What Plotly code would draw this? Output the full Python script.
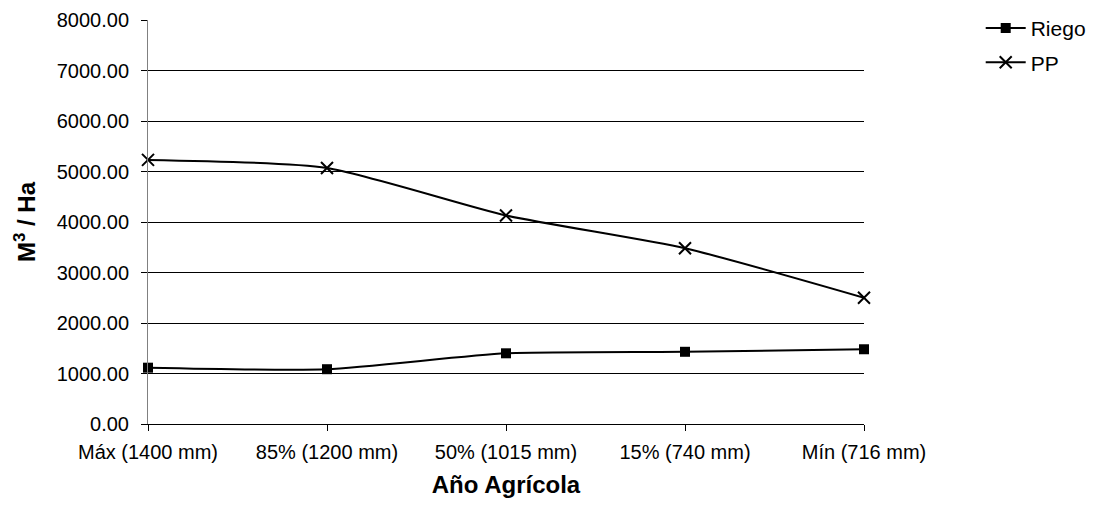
import plotly.graph_objects as go

categories = ["Máx (1400 mm)", "85% (1200 mm)", "50% (1015 mm)", "15% (740 mm)", "Mín (716 mm)"]
riego = [1115, 1085, 1400, 1430, 1480]
pp = [5230, 5070, 4130, 3480, 2500]
y_ticks = [0, 1000, 2000, 3000, 4000, 5000, 6000, 7000, 8000]

font = "Liberation Sans, Arial, sans-serif"
xs = list(range(len(categories)))

fig = go.Figure()
fig.add_trace(go.Scatter(
    x=xs, y=riego, name="Riego", mode="lines+markers", legendgroup="a",
    line=dict(color="black", width=2, shape="spline", smoothing=0.6),
    marker=dict(symbol="square", size=10, color="black"),
    cliponaxis=False,
))
fig.add_trace(go.Scatter(
    x=xs, y=pp, name="PP", mode="lines+markers", legendgroup="b",
    line=dict(color="black", width=2, shape="spline", smoothing=0.6),
    marker=dict(symbol="x-thin", size=12, color="black", line=dict(width=2, color="black")),
    cliponaxis=False,
))

fig.update_layout(
    width=1104, height=518,
    margin=dict(l=140, r=248, t=12, b=102, autoexpand=False),
    paper_bgcolor="white", plot_bgcolor="white",
    font=dict(family=font, size=20, color="black"),
    showlegend=True,
    legend=dict(x=1.163, y=1.03, xanchor="left", yanchor="top",
                font=dict(size=21, family=font), itemwidth=40,
                traceorder="grouped", tracegroupgap=4, bgcolor="rgba(0,0,0,0)"),
    xaxis=dict(
        range=[0, 4], tickmode="array", tickvals=xs, ticktext=categories,
        showgrid=False, zeroline=False, showline=True, linecolor="black", linewidth=1,
        ticks="outside", ticklen=6, tickcolor="black",
        tickfont=dict(size=20, family=font), ticklabelstandoff=4,
        title=dict(text="<b>Año Agrícola</b>", font=dict(size=24, family=font), standoff=14),
    ),
    yaxis=dict(
        range=[0, 8000], tickmode="array", tickvals=y_ticks, tickformat=".2f",
        showgrid=True, gridcolor="black", gridwidth=1, zeroline=False,
        showline=True, linecolor="#808080", linewidth=1,
        ticks="outside", ticklen=6, tickcolor="black",
        tickfont=dict(size=20, family=font), ticklabelstandoff=8,
        title=dict(text="<b>M<sup>3</sup> / Ha</b>", font=dict(size=24, family=font), standoff=14),
    ),
)

fig.write_html("out.html")
